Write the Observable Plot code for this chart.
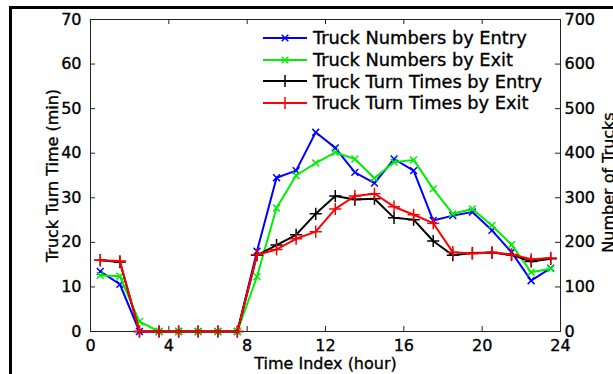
<!DOCTYPE html>
<html>
<head>
<meta charset="utf-8">
<script src="https://cdn.jsdelivr.net/npm/d3@7"></script>
<script src="https://cdn.jsdelivr.net/npm/@observablehq/plot@0.6"></script>
<style>
  html, body { margin: 0; padding: 0; background: #fff; }
  #wrap { position: relative; width: 613px; height: 374px; overflow: hidden; font-family: "DejaVu Sans", sans-serif; }
  #border { position: absolute; left: 9px; top: 6px; right: -10px; bottom: -10px; border-left: 3px solid #000; border-top: 3px solid #000; pointer-events: none; }
  #legend { position: absolute; left: 262px; top: 27px; font-size: 17.8px; color: #000; -webkit-text-stroke: 0.35px #000; }
  .row { display: flex; align-items: center; height: 21.7px; white-space: nowrap; }
  .row svg { margin-right: 6px; }
  svg text { stroke: #000; stroke-width: 0.35px; }
</style>
</head>
<body>
<div id="wrap"><div id="border"></div></div>
<script>
// Data
const hours = [0.5,1.5,2.5,3.5,4.5,5.5,6.5,7.5,8.5,9.5,10.5,11.5,12.5,13.5,14.5,15.5,16.5,17.5,18.5,19.5,20.5,21.5,22.5,23.5];
const trucksByEntry = [135,106,0,0,0,0,0,0,180,345,361,447,412,357,333,387,361,249,260,268,227,178,114,142];
const trucksByExit  = [126,124,22,0,0,0,0,0,123,277,350,378,402,387,344,380,385,320,264,275,238,195,133,141];
const turnByEntry   = [16,15.6,0,0,0,0,0,0,17.1,19.4,21.7,26.4,30.4,29.6,29.8,25.5,25.1,20.3,17.1,17.6,17.7,17.2,15.7,16.3];
const turnByExit    = [16,15.8,0,0,0,0,0,0,17.2,18.4,20.8,22.4,27.5,30.4,30.9,28.0,26.2,24.3,17.8,17.5,17.7,17.3,16.2,16.5];
const xTicks = [0,4,8,12,16,20,24];
const yTicks = [0,10,20,30,40,50,60,70];
const seriesNames = ["Truck Numbers by Entry","Truck Numbers by Exit","Truck Turn Times by Entry","Truck Turn Times by Exit"];
const seriesColors = ["#0000ff","#00ee00","#000000","#ff0000"];
const seriesSymbols = ["times","times","plus","plus"];
const xLabel = "Time Index (hour)";
const yLeftLabel = "Truck Turn Time (min)";
const yRightLabel = "Number of Trucks";

// Build table (truck numbers share the axis at 1/10 scale)
const seriesValues = [
  trucksByEntry.map(v => v / 10),
  trucksByExit.map(v => v / 10),
  turnByEntry,
  turnByExit
];
const series = seriesValues.map((vals, i) => hours.map((h, j) => ({hour: h, value: vals[j], s: i})));

const W = 613, H = 374;
const mL = 90, mR = 53, mT = 19, mB = 43;
const fw = W - mL - mR, fh = H - mT - mB;
const tickLen = 5;

const marks = [
  Plot.axisX({ticks: xTicks, tickSize: 0, tickPadding: 8, label: null, fontSize: 16}),
  Plot.axisY({anchor: "left", ticks: yTicks, tickSize: 0, tickPadding: 9, label: null, fontSize: 16}),
  Plot.axisY({anchor: "right", ticks: yTicks, tickSize: 0, tickPadding: 4, label: null, fontSize: 16, tickFormat: d => String(d * 10)}),
  Plot.ruleX(xTicks, {x: d => d, insetTop: fh - tickLen, stroke: "#222"}),
  Plot.ruleX(xTicks, {x: d => d, insetBottom: fh - tickLen, stroke: "#222"}),
  Plot.ruleY(yTicks, {y: d => d, insetRight: fw - tickLen, stroke: "#222"}),
  Plot.ruleY(yTicks, {y: d => d, insetLeft: fw - tickLen, stroke: "#222"}),
  Plot.frame({stroke: "#222"}),
];
series.forEach((data, i) => {
  marks.push(Plot.line(data, {x: "hour", y: "value", stroke: seriesColors[i], strokeWidth: 2}));
  marks.push(Plot.dot(data, {x: "hour", y: "value", stroke: seriesColors[i], symbol: seriesSymbols[i], r: seriesSymbols[i] === "plus" ? 4 : 3.2, strokeWidth: 1.5}));
});
marks.push(
  Plot.text([xLabel], {frameAnchor: "bottom", textAnchor: "middle", lineAnchor: "middle", dy: 32, fontSize: 16, fill: "#000"}),
  Plot.text([yLeftLabel], {frameAnchor: "left", textAnchor: "middle", lineAnchor: "middle", dx: -38, rotate: -90, fontSize: 16, fill: "#000"}),
  Plot.text([yRightLabel], {frameAnchor: "right", textAnchor: "middle", lineAnchor: "middle", dx: 48, dy: 7, rotate: -90, fontSize: 16, fill: "#000"})
);

const chart = Plot.plot({
  width: W, height: H,
  marginLeft: mL, marginRight: mR, marginTop: mT, marginBottom: mB,
  x: {domain: [0, 24]},
  y: {domain: [0, 70]},
  style: {fontFamily: "DejaVu Sans, sans-serif", fontSize: "16px", color: "#000", background: "transparent", overflow: "visible"},
  marks
});
const wrap = document.getElementById("wrap");
wrap.insertBefore(chart, wrap.firstChild);

// Legend
const legend = document.createElement("div");
legend.id = "legend";
seriesNames.forEach((name, i) => {
  const row = document.createElement("div");
  row.className = "row";
  const s = d3.create("svg").attr("width", 45).attr("height", 14);
  s.append("line").attr("x1", 1).attr("x2", 45).attr("y1", 7).attr("y2", 7).attr("stroke", seriesColors[i]).attr("stroke-width", 2);
  const sym = seriesSymbols[i] === "plus" ? d3.symbolPlus : d3.symbolTimes;
  const size = seriesSymbols[i] === "plus" ? 50 : 30;
  s.append("path").attr("d", d3.symbol(sym, size)()).attr("transform", "translate(23,7)").attr("stroke", seriesColors[i]).attr("fill", "none").attr("stroke-width", 1.5);
  row.appendChild(s.node());
  const t = document.createElement("span");
  t.textContent = name;
  row.appendChild(t);
  legend.appendChild(row);
});
wrap.appendChild(legend);
</script>
</body>
</html>
